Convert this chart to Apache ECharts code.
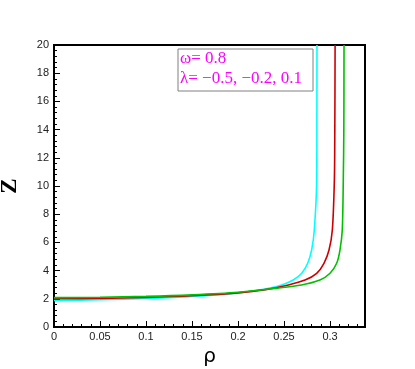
<!DOCTYPE html>
<html>
<head>
<meta charset="utf-8">
<script src="https://cdn.jsdelivr.net/npm/echarts@6/dist/echarts.min.js"></script>
<style>
html, body { margin: 0; padding: 0; background: #fff; }
#chart { width: 415px; height: 369px; }
</style>
</head>
<body>
<div id="chart"></div>
<script>
// rho (x) and Z (y) for each lambda
var rhoCyan = [0, 0.05, 0.1, 0.15, 0.2, 0.218, 0.233, 0.2474, 0.26, 0.2692, 0.2757, 0.28, 0.2829, 0.2855, 0.2857, 0.2858];
var zCyan   = [1.88, 1.93, 2.02, 2.16, 2.42, 2.58, 2.74, 2.98, 3.33, 3.81, 4.52, 5.46, 6.88, 10.4, 14, 20];
var rhoRed  = [0, 0.05, 0.1, 0.15, 0.2, 0.23, 0.2547, 0.2728, 0.2855, 0.2934, 0.2989, 0.3025, 0.3047, 0.3052, 0.3055];
var zRed    = [2.0, 2.03, 2.1, 2.22, 2.42, 2.65, 2.98, 3.33, 3.81, 4.52, 5.46, 6.88, 10.4, 14, 20];
var rhoGreen = [0, 0.05, 0.1, 0.15, 0.2, 0.24, 0.269, 0.289, 0.3, 0.3072, 0.3108, 0.3133, 0.3144, 0.315, 0.3152];
var zGreen   = [2.08, 2.11, 2.17, 2.28, 2.46, 2.74, 2.98, 3.33, 3.81, 4.52, 5.46, 6.88, 10.4, 14, 20];

var lineColors = ['#00ffff', '#cc0000', '#00c000'];
var legendLines = ['ω= 0.8', 'λ= −0.5, −0.2, 0.1'];

function pairs(xs, ys) {
	var out = [];
	for (var i = 0; i < xs.length; i++) {
		out.push([xs[i], ys[i]]);
	}
	return out;
}

var myChart = echarts.init(document.getElementById('chart'));
myChart.setOption({
	animation: false,
	grid: {
		left: 54,
		right: 50,
		top: 45,
		bottom: 42,
		outerBoundsMode: 'none',
		containLabel: false,
		show: true,
		borderColor: '#000',
		borderWidth: 2,
		backgroundColor: 'transparent'
	},
	xAxis: {
		type: 'value',
		min: 0,
		max: 0.338,
		interval: 0.05,
		name: 'ρ',
		nameLocation: 'middle',
		nameGap: 12,
		nameTextStyle: { fontFamily: 'DejaVu Sans', fontSize: 20, color: '#000', verticalAlign: 'top' },
		axisLine: { show: true, lineStyle: { color: '#000', width: 2 } },
		axisTick: { show: true, inside: true, length: 6, lineStyle: { color: '#000', width: 1 } },
		minorTick: { show: true, splitNumber: 5, length: 3, lineStyle: { color: '#000', width: 1 } },
		axisLabel: {
			showMaxLabel: false,
			margin: 4,
			fontFamily: 'Liberation Sans',
			fontSize: 11,
			color: '#222',
			formatter: function(v) {
				return String(Math.round(v * 100) / 100);
			}
		},
		splitLine: { show: false }
	},
	yAxis: {
		type: 'value',
		min: 0,
		max: 20,
		interval: 2,
		name: 'Z',
		nameLocation: 'middle',
		nameRotate: 90,
		nameGap: 32,
		nameTextStyle: { fontFamily: 'Liberation Serif', fontWeight: 'bold', fontSize: 23, color: '#000' },
		axisLine: { show: true, lineStyle: { color: '#000', width: 2 } },
		axisTick: { show: true, inside: true, length: 6, lineStyle: { color: '#000', width: 1 } },
		minorTick: { show: true, splitNumber: 5, length: 3, lineStyle: { color: '#000', width: 1 } },
		axisLabel: { margin: 5, fontFamily: 'Liberation Sans', fontSize: 11, color: '#222' },
		splitLine: { show: false }
	},
	series: [{
		type: 'line',
		data: pairs(rhoCyan, zCyan),
		smooth: 0.3,
		showSymbol: false,
		lineStyle: { color: lineColors[0], width: 1.6 }
	}, {
		type: 'line',
		data: pairs(rhoRed, zRed),
		smooth: 0.3,
		showSymbol: false,
		lineStyle: { color: lineColors[1], width: 1.6 }
	}, {
		type: 'line',
		data: pairs(rhoGreen, zGreen),
		smooth: 0.3,
		showSymbol: false,
		lineStyle: { color: lineColors[2], width: 1.6 }
	}],
	graphic: [{
		type: 'rect',
		shape: { x: 178, y: 49, width: 135, height: 42 },
		style: { fill: '#fff', stroke: '#808080', lineWidth: 1 },
		z: 10
	}, {
		type: 'text',
		left: 180,
		top: 50,
		style: { text: legendLines[0], fill: '#ff00ff', font: '17px "Liberation Serif"' },
		z: 11
	}, {
		type: 'text',
		left: 180,
		top: 70,
		style: { text: legendLines[1], fill: '#ff00ff', font: '17px "Liberation Serif"' },
		z: 11
	}]
});
</script>
</body>
</html>
